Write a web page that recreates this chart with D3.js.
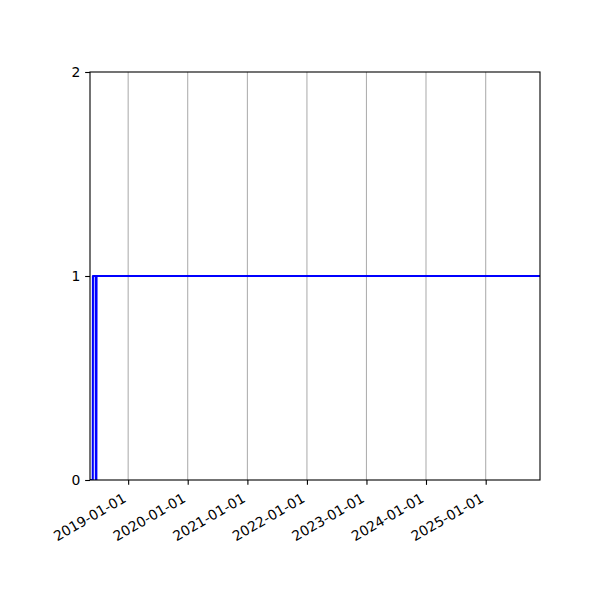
<!DOCTYPE html>
<html>
<head>
<meta charset="utf-8">
<script src="https://cdn.jsdelivr.net/npm/d3@7"></script>
<style>
html,body{margin:0;padding:0;background:#fff;}
svg{display:block;font-family:"DejaVu Sans",sans-serif;}
</style>
</head>
<body>
<svg id="chart" width="600" height="600"></svg>
<script>
// ---- data ----
const dates = ["2018-05-12","2018-05-29","2018-05-30","2018-06-16","2018-06-17","2018-06-20","2018-06-21","2025-11-30"];
const values = [0,0,1,1,0,0,1,1];
const xTickLabels = ["2019-01-01","2020-01-01","2021-01-01","2022-01-01","2023-01-01","2024-01-01","2025-01-01"];
const yTicks = [0,1,2];
const xDomain = ["2018-05-12","2025-11-30"];
const yDomain = [0,2];

const parse = d3.utcParse("%Y-%m-%d");
const data = dates.map((d,i)=>({date:parse(d), value:values[i]}));

const svg = d3.select("#chart");
const m = {left:90, right:540, top:72, bottom:480};
const fs = 13.9;

const x = d3.scaleUtc().domain(xDomain.map(parse)).range([m.left, m.right]);
const y = d3.scaleLinear().domain(yDomain).range([m.bottom, m.top]);

svg.append("rect").attr("width",600).attr("height",600).attr("fill","#fff");

// grid (x only)
const xt = xTickLabels.map(parse);
svg.append("g").selectAll("line").data(xt).join("line")
  .attr("x1",d=>x(d)).attr("x2",d=>x(d))
  .attr("y1",m.top).attr("y2",m.bottom)
  .attr("stroke","#b0b0b0").attr("stroke-width",1.1);

// clip
svg.append("clipPath").attr("id","clip").append("rect")
  .attr("x",m.left).attr("y",m.top).attr("width",m.right-m.left).attr("height",m.bottom-m.top);

// line
const line = d3.line().x(d=>x(d.date)).y(d=>y(d.value));
svg.append("path").datum(data)
  .attr("clip-path","url(#clip)")
  .attr("fill","none").attr("stroke","#0000ff").attr("stroke-width",2.08)
  .attr("stroke-linejoin","round")
  .attr("d",line);

// spines
svg.append("rect").attr("x",m.left).attr("y",m.top)
  .attr("width",m.right-m.left).attr("height",m.bottom-m.top)
  .attr("fill","none").attr("stroke","#000").attr("stroke-width",1.1);

// x axis ticks and labels
const xAxis = d3.axisBottom(x).tickValues(xt).tickFormat(d3.utcFormat("%Y-%m-%d"))
  .tickSize(4.86).tickPadding(4.86);
const gx = svg.append("g").attr("transform",`translate(0,${m.bottom})`).call(xAxis);
gx.select(".domain").remove();
gx.selectAll(".tick line").attr("stroke","#000").attr("stroke-width",1.1);
const h = fs*1.17;
gx.selectAll(".tick text")
  .attr("font-size",fs).attr("font-family","DejaVu Sans").attr("fill","#000")
  .attr("text-anchor","end").attr("dominant-baseline","central")
  .attr("y",null).attr("dy",null)
  .attr("transform",`translate(${-h/4},${4.86+4.86+0.433*h}) rotate(-30)`);

// y axis
const yAxis = d3.axisLeft(y).tickValues(yTicks).tickFormat(d3.format("d"))
  .tickSize(4.86).tickPadding(4.86);
const gy = svg.append("g").attr("transform",`translate(${m.left},0)`).call(yAxis);
gy.select(".domain").remove();
gy.selectAll(".tick line").attr("stroke","#000").attr("stroke-width",1.1);
gy.selectAll(".tick text").attr("font-size",fs).attr("font-family","DejaVu Sans").attr("fill","#000");
</script>
</body>
</html>
